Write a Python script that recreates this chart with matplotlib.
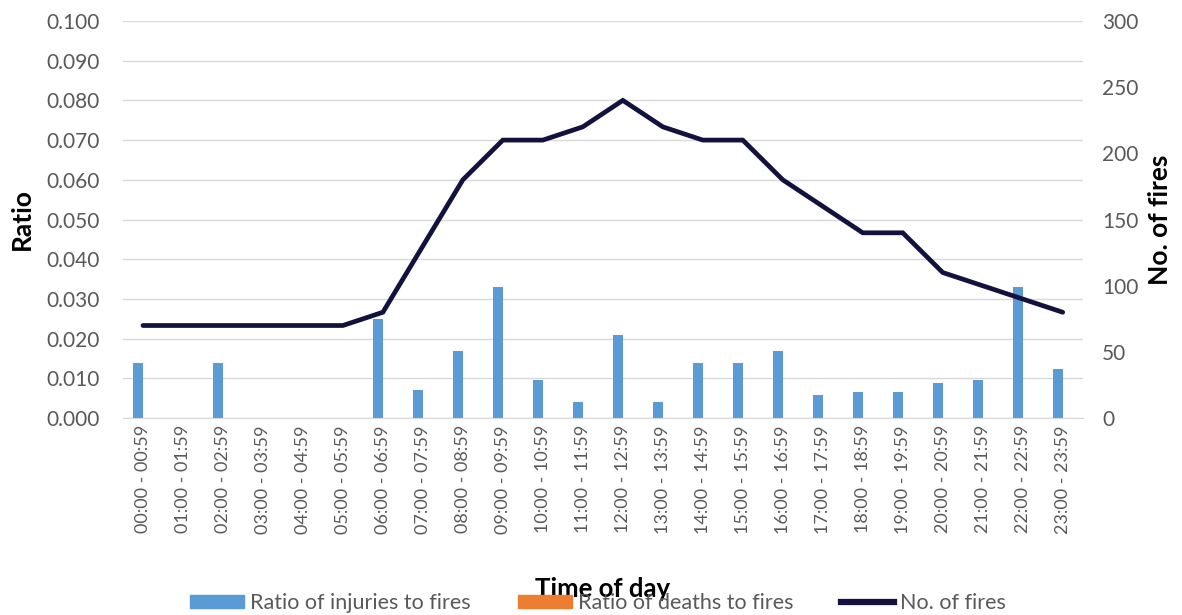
import matplotlib
matplotlib.use("Agg")
import matplotlib.pyplot as plt
import numpy as np
from matplotlib.patches import Patch
from matplotlib.lines import Line2D

hours = [f"{h:02d}:00 - {h:02d}:59" for h in range(24)]
injury_ratio = [0.014, 0, 0.014, 0, 0, 0, 0.025, 0.007, 0.017, 0.033, 0.0095, 0.0042,
                0.021, 0.0042, 0.014, 0.014, 0.017, 0.0059, 0.0065, 0.0065, 0.0089, 0.0095,
                0.033, 0.0125]
death_ratio = [0] * 24
no_of_fires = [70, 70, 70, 70, 70, 70, 80, 130, 180, 210, 210, 220, 240, 220, 210, 210,
               180, 160, 140, 140, 110, 100, 90, 80]

plt.rcParams['font.family'] = ['Lato', 'DejaVu Sans']

fig = plt.figure(figsize=(11.82, 6.15), dpi=100)
ax = fig.add_axes([0.104, 0.320, 0.812, 0.646])
ax2 = ax.twinx()

x = np.arange(len(hours))
bw = 0.25
blue = '#5b9bd5'
orange = '#ed7d31'
navy = '#13123f'
gray = '#595959'

ax.bar(x - bw / 2, injury_ratio, width=bw, color=blue, zorder=2)
ax.bar(x + bw / 2, death_ratio, width=bw, color=orange, zorder=2)
ax2.plot(x, no_of_fires, color=navy, lw=3.4, solid_capstyle='round', solid_joinstyle='miter')

ax.set_xlim(-0.5, 23.5)
ax.set_ylim(0, 0.1)
ax.set_yticks(np.arange(0, 0.1001, 0.01))
ax.set_yticklabels([f"{v:.3f}" for v in np.arange(0, 0.1001, 0.01)])
ax2.set_ylim(0, 300)
ax2.set_yticks(range(0, 301, 50))

ax.grid(axis='y', color='#d9d9d9', lw=1, zorder=0)
ax.set_axisbelow(True)
for a in (ax, ax2):
    for s in ('top', 'left', 'right'):
        a.spines[s].set_visible(False)
    a.spines['bottom'].set_color('#d9d9d9')
ax2.spines['bottom'].set_visible(False)

ax.set_xticks(x)
ax.set_xticklabels(hours, rotation=90, fontsize=13, color=gray)
ax.tick_params(axis='x', length=0, pad=5)
ax.tick_params(axis='y', length=0, labelsize=15, labelcolor=gray, pad=16.5)
ax2.tick_params(axis='y', length=0, labelsize=15, labelcolor=gray, pad=14)

ax.set_ylabel('Ratio', fontsize=19, fontweight='bold', labelpad=9)
ax2.set_ylabel('No. of fires', fontsize=19, fontweight='bold', labelpad=7)

fig.text(0.510, 0.042, 'Time of day', ha='center', va='center', fontsize=18.5, fontweight='bold')

handles = [Patch(color=blue), Patch(color=orange), Line2D([], [], color=navy, lw=4.5)]
labels = ['Ratio of injuries to fires', 'Ratio of deaths to fires', 'No. of fires']
fig.legend(handles, labels, loc='center', bbox_to_anchor=(0.506, 0.019), ncol=3, frameon=False,
           fontsize=15.5, handlelength=2.5, handleheight=0.56, handletextpad=0.28,
           columnspacing=2.2, labelcolor=gray, borderpad=0, borderaxespad=0)

fig.savefig('out.png', dpi=100)
